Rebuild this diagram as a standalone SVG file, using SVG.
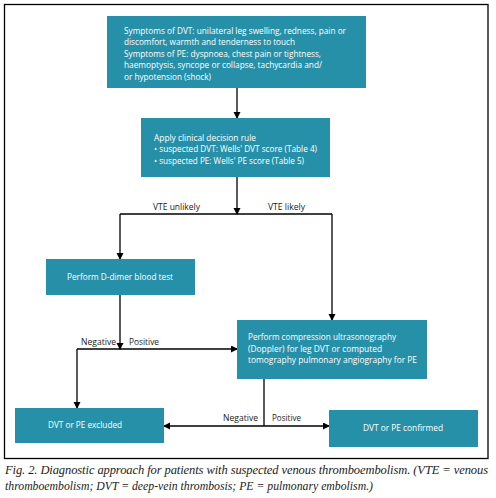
<svg xmlns="http://www.w3.org/2000/svg" width="496" height="498" viewBox="0 0 496 498">
<style>
.box{fill:#2790a9;}
.bt{font-family:"Open Sans","Liberation Sans",sans-serif;font-size:9.5px;fill:#ffffff;}
.lb{font-family:"Open Sans","Liberation Sans",sans-serif;font-size:9.5px;fill:#1a1a1a;}
.c{stroke:#000;stroke-width:1.3;fill:none;}
.cap{font-family:"Liberation Serif",serif;font-style:italic;font-size:12.5px;fill:#222;}
</style>
<defs>
<marker id="ah" markerUnits="userSpaceOnUse" markerWidth="8" markerHeight="8" refX="6" refY="3.5" orient="auto">
<path d="M0,0 L7,3.5 L0,7 Z" fill="#000"/>
</marker>
</defs>
<rect x="4.5" y="4.5" width="483.5" height="454" fill="none" stroke="#000" stroke-width="1.3"/>
<g id="connectors">
<path class="c" d="M237 88 V118" marker-end="url(#ah)"/>
<path class="c" d="M237 177 V214" marker-end="url(#ah)"/>
<path class="c" d="M120 214 H332"/>
<path class="c" d="M120 214 V259" marker-end="url(#ah)"/>
<path class="c" d="M332 214 V320" marker-end="url(#ah)"/>
<path class="c" d="M120 295 V349" marker-end="url(#ah)"/>
<path class="c" d="M77 349 H237" marker-end="url(#ah)"/>
<path class="c" d="M77 349 V408" marker-end="url(#ah)"/>
<path class="c" d="M264 379 V426"/>
<path class="c" d="M264 426 H164" marker-end="url(#ah)"/>
<path class="c" d="M264 426 H329" marker-end="url(#ah)"/>
<text class="lb" x="153" y="209.5" textLength="47" lengthAdjust="spacingAndGlyphs">VTE unlikely</text>
<text class="lb" x="268" y="209.5" textLength="37" lengthAdjust="spacingAndGlyphs">VTE likely</text>
<text class="lb" x="81" y="344.5" textLength="35" lengthAdjust="spacingAndGlyphs">Negative</text>
<text class="lb" x="129" y="344.5" textLength="30" lengthAdjust="spacingAndGlyphs">Positive</text>
<text class="lb" x="223" y="420.5" textLength="35" lengthAdjust="spacingAndGlyphs">Negative</text>
<text class="lb" x="272" y="420.5" textLength="29" lengthAdjust="spacingAndGlyphs">Positive</text>
</g>
<g id="symptoms">
<rect class="box" x="107" y="16" width="259" height="72"/>
<text class="bt" x="124" y="33.5" textLength="222" lengthAdjust="spacingAndGlyphs">Symptoms of DVT: unilateral leg swelling, redness, pain or</text>
<text class="bt" x="124" y="45" textLength="171" lengthAdjust="spacingAndGlyphs">discomfort, warmth and tenderness to touch</text>
<text class="bt" x="124" y="56.5" textLength="197" lengthAdjust="spacingAndGlyphs">Symptoms of PE: dyspnoea, chest pain or tightness,</text>
<text class="bt" x="124" y="68" textLength="198" lengthAdjust="spacingAndGlyphs">haemoptysis, syncope or collapse, tachycardia and/</text>
<text class="bt" x="124" y="79.5" textLength="87" lengthAdjust="spacingAndGlyphs">or hypotension (shock)</text>
</g>
<g id="decision-rule">
<rect class="box" x="141" y="118" width="189" height="59"/>
<text class="bt" x="154" y="140.5" textLength="102" lengthAdjust="spacingAndGlyphs">Apply clinical decision rule</text>
<text class="bt" x="154" y="152" textLength="163" lengthAdjust="spacingAndGlyphs">• suspected DVT: Wells' DVT score (Table 4)</text>
<text class="bt" x="154" y="163.5" textLength="150" lengthAdjust="spacingAndGlyphs">• suspected PE: Wells' PE score (Table 5)</text>
</g>
<g id="d-dimer">
<rect class="box" x="46" y="259" width="149" height="36"/>
<text class="bt" x="67" y="279.5" textLength="106" lengthAdjust="spacingAndGlyphs">Perform D-dimer blood test</text>
</g>
<g id="compression">
<rect class="box" x="237" y="320" width="190" height="59"/>
<text class="bt" x="248" y="340" textLength="148" lengthAdjust="spacingAndGlyphs">Perform compression ultrasonography</text>
<text class="bt" x="248" y="351.5" textLength="134" lengthAdjust="spacingAndGlyphs">(Doppler) for leg DVT or computed</text>
<text class="bt" x="248" y="363" textLength="169" lengthAdjust="spacingAndGlyphs">tomography pulmonary angiography for PE</text>
</g>
<g id="excluded">
<rect class="box" x="15" y="408" width="149" height="35"/>
<text class="bt" x="48" y="427.5" textLength="74" lengthAdjust="spacingAndGlyphs">DVT or PE excluded</text>
</g>
<g id="confirmed">
<rect class="box" x="329" y="410" width="149" height="37"/>
<text class="bt" x="363" y="430.5" textLength="80" lengthAdjust="spacingAndGlyphs">DVT or PE confirmed</text>
</g>
<text class="cap" x="5" y="474" textLength="483" lengthAdjust="spacing">Fig. 2. Diagnostic approach for patients with suspected venous thromboembolism. (VTE = venous</text>
<text class="cap" x="5" y="490" textLength="368" lengthAdjust="spacingAndGlyphs">thromboembolism; DVT = deep-vein thrombosis; PE = pulmonary embolism.)</text>
</svg>
